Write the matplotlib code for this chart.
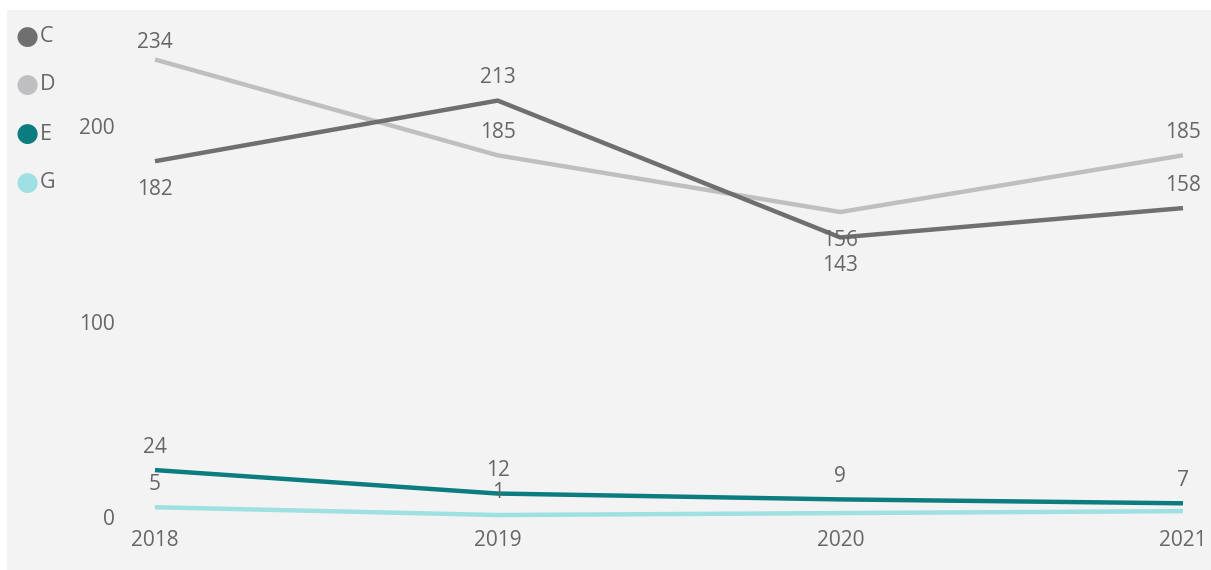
import matplotlib
matplotlib.use("Agg")
import matplotlib.pyplot as plt
from matplotlib.patches import Rectangle

years = [2018, 2019, 2020, 2021]
series_names = ["C", "D", "E", "G"]
c_vals = [182, 213, 143, 158]
d_vals = [234, 185, 156, 185]
e_vals = [24, 12, 9, 7]
g_vals = [5, 1, 2, 3]
yticks = [0, 100, 200]

colors = {"C": "#6f6f70", "D": "#bfbfc1", "E": "#0b7c80", "G": "#9fe0e3"}
# label placement: +1 above, -1 below, 0 hidden
c_pos = [-1, 1, -1, 1]
d_pos = [1, 1, -1, 1]
e_pos = [1, 1, 1, 1]
g_pos = [1, 1, 0, 0]

plt.rcParams['font.family'] = ['Open Sans', 'DejaVu Sans']
W, H = 1211, 570
fig = plt.figure(figsize=(W / 100, H / 100), dpi=100, facecolor="white")

# background panel
fig.patches.append(Rectangle((7 / W, 0), 1 - 7 / W, (H - 10) / H, transform=fig.transFigure,
                             facecolor="#f3f3f3", edgecolor="none", zorder=-5))

x0, x1 = 155, 1183
y0 = 517
ppu = 1.955
ymax = 240
ax = fig.add_axes([x0 / W, (H - y0) / H, (x1 - x0) / W, ymax * ppu / H])
ax.set_zorder(2)
ax.set_facecolor("none")
ax.set_xlim(2018, 2021)
ax.set_ylim(0, ymax)
for s in ax.spines.values():
    s.set_visible(False)

txt_color = "#666666"
fs = 15
ax.set_xticks(years)
ax.set_xticklabels([str(y) for y in years])
ax.set_yticks(yticks)
ax.tick_params(axis="both", length=0, labelsize=fs, colors=txt_color)
ax.tick_params(axis="y", pad=29)
ax.tick_params(axis="x", pad=9)

PX = 0.72  # points per pixel at 100 dpi
data = [("C", c_vals, c_pos), ("D", d_vals, d_pos), ("E", e_vals, e_pos), ("G", g_vals, g_pos)]
zorders = {"C": 4, "D": 3, "E": 4, "G": 3}
for name, vals, pos in data:
    ax.plot(years, vals, color=colors[name], lw=3.2, solid_capstyle="butt", clip_on=False,
            zorder=zorders[name])
    for x, v, p in zip(years, vals, pos):
        if p == 0:
            continue
        if p > 0:
            pt_y = y0 - v * ppu
            lab_y = max(pt_y - 23, 43)  # keep label inside the panel
            off = pt_y - lab_y
        else:
            off = -28
        ax.annotate(str(v), (x, v), xytext=(0, off * PX), textcoords="offset points",
                    ha="center", va="center", fontsize=fs, color=txt_color, zorder=6,
                    annotation_clip=False)

# legend
leg_y = [37, 85, 134, 183]
for name, ly in zip(series_names, leg_y):
    fig.text(27 / W, 1 - ly / H, "\u25cf", color=colors[name], fontsize=19, ha="center", va="center",
             family="DejaVu Sans", zorder=5)
    fig.text(40 / W, 1 - ly / H, name, color=txt_color, fontsize=15.5, ha="left", va="center", zorder=5)

fig.savefig("out.png", dpi=100, facecolor="white")
